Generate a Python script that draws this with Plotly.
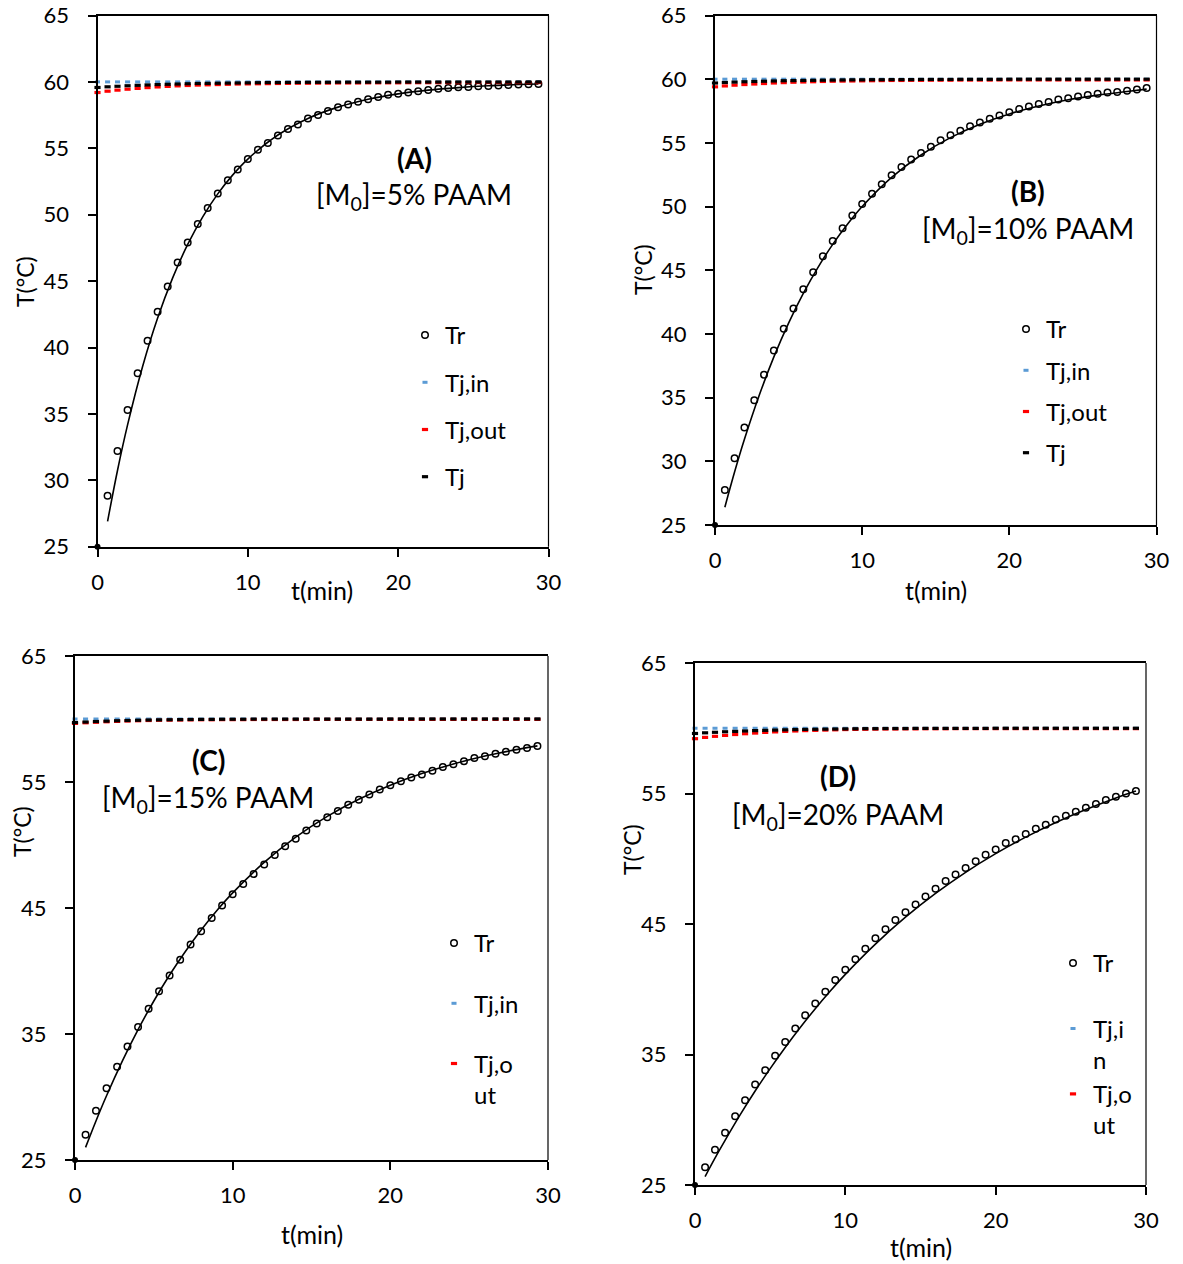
import plotly.graph_objects as go

W, H = 1183, 1264
FONT = "Lato"

# ---- data -------------------------------------------------------------
# measurement times of the reactor temperature (min)
t_meas = [0.67, 1.33, 2.0, 2.67, 3.33, 4.0, 4.67, 5.33, 6.0, 6.67, 7.33,
          8.0, 8.67, 9.33, 10.0, 10.67, 11.33, 12.0, 12.67, 13.33, 14.0,
          14.67, 15.33, 16.0, 16.67, 17.33, 18.0, 18.67, 19.33, 20.0, 20.67,
          21.33, 22.0, 22.67, 23.33, 24.0, 24.67, 25.33, 26.0, 26.67, 27.33,
          28.0, 28.67, 29.33]

# jacket temperature sampling times (min)
t_jacket = [0.0, 0.67, 1.33, 2.0, 2.67, 3.33, 4.0, 4.67, 5.33, 6.0, 6.67,
            7.33, 8.0, 8.67, 9.33, 10.0, 10.67, 11.33, 12.0, 12.67, 13.33,
            14.0, 14.67, 15.33, 16.0, 16.67, 17.33, 18.0, 18.67, 19.33, 20.0,
            20.67, 21.33, 22.0, 22.67, 23.33, 24.0, 24.67, 25.33, 26.0, 26.67,
            27.33, 28.0, 28.67, 29.33]

# model curve times (min)
t_model = [0.67, 1.33, 2.0, 3.0, 4.0, 5.0, 6.0, 7.0, 8.0, 9.0, 10.0, 12.0,
           14.0, 16.0, 18.0, 20.0, 22.0, 24.0, 26.0, 28.0, 29.33]

# initial reactor state
t_start = [0.0]
T_start = [25.0]

# measured reactor temperature Tr (°C)
Tr_A = [28.84, 32.2, 35.3, 38.06, 40.5, 42.7, 44.6, 46.4, 47.9, 49.3, 50.5,
        51.6, 52.6, 53.4, 54.2, 54.9, 55.4, 55.96, 56.45, 56.8, 57.25, 57.5,
        57.8, 58.1, 58.3, 58.5, 58.7, 58.86, 59.04, 59.1, 59.2, 59.3, 59.39,
        59.48, 59.54, 59.6, 59.62, 59.68, 59.7, 59.73, 59.76, 59.8, 59.83, 59.85]
Tr_B = [27.75, 30.25, 32.65, 34.8, 36.8, 38.7, 40.4, 42.0, 43.5, 44.85, 46.1,
        47.3, 48.3, 49.3, 50.2, 51.0, 51.75, 52.45, 53.1, 53.7, 54.2, 54.7,
        55.2, 55.6, 55.95, 56.3, 56.6, 56.9, 57.15, 57.4, 57.65, 57.85, 58.06,
        58.2, 58.4, 58.5, 58.65, 58.75, 58.85, 58.95, 59.0, 59.1, 59.2, 59.3]
Tr_C = [27.0, 28.9, 30.7, 32.4, 34.0, 35.55, 37.0, 38.4, 39.65, 40.9, 42.1,
        43.15, 44.2, 45.2, 46.1, 46.9, 47.7, 48.45, 49.2, 49.9, 50.5, 51.15,
        51.7, 52.2, 52.7, 53.2, 53.6, 54.0, 54.4, 54.75, 55.05, 55.35, 55.6,
        55.9, 56.2, 56.4, 56.65, 56.9, 57.05, 57.25, 57.4, 57.55, 57.7, 57.85]
Tr_D = [26.36, 27.7, 29.0, 30.27, 31.5, 32.7, 33.8, 34.9, 35.95, 37.0, 38.0,
        38.9, 39.8, 40.7, 41.5, 42.3, 43.1, 43.9, 44.6, 45.3, 45.9, 46.5,
        47.1, 47.7, 48.3, 48.8, 49.3, 49.8, 50.3, 50.7, 51.2, 51.5, 51.9,
        52.3, 52.6, 53.0, 53.3, 53.6, 53.9, 54.2, 54.5, 54.75, 55.0, 55.2]

# model reactor temperature (°C)
Tm_A = [26.9, 30.74, 34.17, 38.57, 42.22, 45.24, 47.76, 49.84, 51.57, 53.0,
        54.19, 56.0, 57.25, 58.1, 58.69, 59.1, 59.38, 59.57, 59.71, 59.8, 59.84]
Tm_B = [26.4, 29.16, 31.73, 35.17, 38.2, 40.85, 43.18, 45.23, 47.03, 48.61,
        50.0, 52.29, 54.05, 55.41, 56.46, 57.27, 57.89, 58.38, 58.75, 59.04, 59.22]
Tm_C = [26.0, 28.1, 30.1, 32.85, 35.35, 37.62, 39.68, 41.55, 43.25, 44.8,
        46.2, 48.62, 50.62, 52.27, 53.63, 54.75, 55.67, 56.43, 57.06, 57.57, 57.87]
Tm_D = [25.65, 27.06, 28.42, 30.37, 32.2, 33.92, 35.54, 37.07, 38.51, 39.86,
        41.14, 43.46, 45.52, 47.34, 48.96, 50.39, 51.66, 52.78, 53.77, 54.66, 55.19]

# jacket inlet temperature Tj,in (°C)
Tjin_A = [60.0, 60.0, 60.0, 60.0, 60.0, 60.0, 60.0, 60.0, 60.0, 60.0, 60.0, 60.0, 60.0, 60.0, 60.0,
          60.0, 60.0, 60.0, 60.0, 60.0, 60.0, 60.0, 60.0, 60.0, 60.0, 60.0, 60.0, 60.0, 60.0, 60.0,
          60.0, 60.0, 60.0, 60.0, 60.0, 60.0, 60.0, 60.0, 60.0, 60.0, 60.0, 60.0, 60.0, 60.0, 60.0]
Tjin_B = list(Tjin_A)
Tjin_C = list(Tjin_A)
Tjin_D = list(Tjin_A)

# jacket outlet temperature Tj,out (°C)
Tjout_A = [59.20, 59.30, 59.38, 59.45, 59.51, 59.57, 59.62, 59.66, 59.70, 59.73, 59.76, 59.78, 59.80, 59.82, 59.84,
           59.85, 59.86, 59.87, 59.88, 59.89, 59.90, 59.90, 59.91, 59.91, 59.92, 59.92, 59.92, 59.93, 59.93, 59.93,
           59.93, 59.94, 59.94, 59.94, 59.94, 59.94, 59.94, 59.95, 59.95, 59.95, 59.95, 59.95, 59.95, 59.95, 59.95]
Tjout_B = [59.40, 59.47, 59.53, 59.58, 59.62, 59.66, 59.70, 59.73, 59.76, 59.78, 59.80, 59.82, 59.84, 59.85, 59.86,
           59.87, 59.88, 59.89, 59.90, 59.90, 59.91, 59.91, 59.92, 59.92, 59.92, 59.93, 59.93, 59.93, 59.93, 59.94,
           59.94, 59.94, 59.94, 59.94, 59.94, 59.94, 59.94, 59.94, 59.94, 59.94, 59.94, 59.94, 59.94, 59.94, 59.94]
Tjout_C = [59.65, 59.70, 59.74, 59.78, 59.81, 59.84, 59.86, 59.88, 59.90, 59.91, 59.92, 59.93, 59.94, 59.94, 59.95,
           59.95, 59.95, 59.96, 59.96, 59.96, 59.96, 59.96, 59.97, 59.97, 59.97, 59.97, 59.97, 59.97, 59.97, 59.97,
           59.97, 59.97, 59.97, 59.97, 59.97, 59.97, 59.97, 59.97, 59.97, 59.97, 59.97, 59.97, 59.97, 59.97, 59.97]
Tjout_D = [59.20, 59.30, 59.38, 59.45, 59.52, 59.58, 59.63, 59.68, 59.72, 59.76, 59.79, 59.82, 59.84, 59.86, 59.88,
           59.90, 59.91, 59.92, 59.93, 59.94, 59.94, 59.95, 59.95, 59.96, 59.96, 59.96, 59.97, 59.97, 59.97, 59.97,
           59.97, 59.97, 59.97, 59.97, 59.97, 59.97, 59.97, 59.97, 59.97, 59.97, 59.97, 59.97, 59.97, 59.97, 59.97]

# mean jacket temperature Tj (°C)
Tj_A = [59.58, 59.63, 59.67, 59.71, 59.74, 59.77, 59.80, 59.82, 59.84, 59.86, 59.88, 59.89, 59.90, 59.91, 59.92,
        59.93, 59.94, 59.95, 59.95, 59.96, 59.96, 59.97, 59.97, 59.97, 59.98, 59.98, 59.98, 59.98, 59.98, 59.98,
        59.99, 59.99, 59.99, 59.99, 59.99, 59.99, 59.99, 59.99, 59.99, 59.99, 59.99, 59.99, 59.99, 59.99, 59.99]
Tj_B = [59.70, 59.74, 59.77, 59.80, 59.82, 59.84, 59.86, 59.88, 59.89, 59.90, 59.91, 59.92, 59.93, 59.94, 59.95,
        59.95, 59.96, 59.96, 59.97, 59.97, 59.97, 59.98, 59.98, 59.98, 59.98, 59.99, 59.99, 59.99, 59.99, 59.99,
        60.0, 60.0, 60.0, 60.0, 60.0, 60.0, 60.0, 60.0, 60.0, 60.0, 60.0, 60.0, 60.0, 60.0, 60.0]
Tj_C = [59.72, 59.76, 59.80, 59.83, 59.86, 59.88, 59.90, 59.92, 59.93, 59.94, 59.95, 59.96, 59.97, 59.97, 59.98,
        59.98, 59.98, 59.99, 59.99, 59.99, 59.99, 59.99, 59.99, 59.99, 59.99, 59.99, 59.99, 59.99, 59.99, 59.99,
        60.0, 60.0, 60.0, 60.0, 60.0, 60.0, 60.0, 60.0, 60.0, 60.0, 60.0, 60.0, 60.0, 60.0, 60.0]
Tj_D = [59.60, 59.65, 59.69, 59.73, 59.76, 59.79, 59.82, 59.84, 59.86, 59.88, 59.90, 59.91, 59.92, 59.93, 59.94,
        59.95, 59.96, 59.97, 59.97, 59.98, 59.98, 59.98, 59.99, 59.99, 59.99, 59.99, 59.99, 59.99, 59.99, 59.99,
        60.0, 60.0, 60.0, 60.0, 60.0, 60.0, 60.0, 60.0, 60.0, 60.0, 60.0, 60.0, 60.0, 60.0, 60.0]

panel_tags = ["(A)", "(B)", "(C)", "(D)"]
monomer_pct = ["5%", "10%", "15%", "20%"]
legend_names = [
    ["Tr", "Tj,in", "Tj,out", "Tj"],
    ["Tr", "Tj,in", "Tj,out", "Tj"],
    ["Tr", "Tj,in", "Tj,o<br>ut", None],
    ["Tr<br>\u00a0", "Tj,i<br>n", "Tj,o<br>ut", None],
]
y_dticks = [5, 5, 10, 10]

# ---- layout geometry (pixels) -----------------------------------------
# plot area boxes: left, right, top, bottom
boxes = [(97.5, 548.5, 15.5, 546.7),
         (715.0, 1156.5, 15.5, 525.0),
         (75.0, 548.0, 656.0, 1160.0),
         (695.0, 1146.0, 663.0, 1185.0)]
tag_pos = [(414, 158), (1028, 191), (208, 760), (838, 776)]
label_pos = [(414, 196), (1028, 230), (208, 799), (838, 816)]
xtitle_pos = [(322, 590), (936, 590), (312, 1234), (921, 1247)]
ytitle_pos = [(25, 282), (643, 270), (22, 832), (632, 850)]
legend_pos = [(405, 313), (1006, 307), (434, 921), (1053, 941)]
legend_gap = [13, 7, 26, 0]
LEG_SIZE = 24


def px(x, y):
    return x / W, 1 - y / H


series = [
    (Tr_A, Tm_A, Tjin_A, Tjout_A, Tj_A),
    (Tr_B, Tm_B, Tjin_B, Tjout_B, Tj_B),
    (Tr_C, Tm_C, Tjin_C, Tjout_C, Tj_C),
    (Tr_D, Tm_D, Tjin_D, Tjout_D, Tj_D),
]

fig = go.Figure()
annotations = []
shapes = []
layout = {}

for i, (tr, tm, tjin, tjout, tj) in enumerate(series):
    suf = "" if i == 0 else str(i + 1)
    xa, ya = "x" + suf, "y" + suf
    leg = "legend" + suf
    names = legend_names[i]

    fig.add_trace(go.Scatter(
        x=t_meas, y=tr, mode="markers", name=names[0],
        marker=dict(symbol="circle-open", size=6.5, color="black",
                    line=dict(width=1.5, color="black")),
        xaxis=xa, yaxis=ya, legend=leg, legendgroup=f"g{i}a", cliponaxis=False))
    fig.add_trace(go.Scatter(
        x=t_model, y=tm, mode="lines", line=dict(color="black", width=1.6, shape="spline"),
        xaxis=xa, yaxis=ya, showlegend=False, cliponaxis=False))
    fig.add_trace(go.Scatter(
        x=t_jacket, y=tjin, mode="markers", name=names[1],
        marker=dict(symbol="line-ew", size=3.6, color="#5B9BD5",
                    line=dict(width=3, color="#5B9BD5")),
        xaxis=xa, yaxis=ya, legend=leg, legendgroup=f"g{i}b", cliponaxis=False))
    fig.add_trace(go.Scatter(
        x=t_jacket, y=tjout, mode="markers", name=names[2],
        marker=dict(symbol="line-ew", size=4.4, color="#FF0000",
                    line=dict(width=3.2, color="#FF0000")),
        xaxis=xa, yaxis=ya, legend=leg, legendgroup=f"g{i}c", cliponaxis=False))
    fig.add_trace(go.Scatter(
        x=t_jacket, y=tj, mode="markers", name=names[3] or "Tj",
        marker=dict(symbol="line-ew", size=4.4, color="black",
                    line=dict(width=3.2, color="black")),
        xaxis=xa, yaxis=ya, legend=leg, legendgroup=f"g{i}d",
        showlegend=names[3] is not None, cliponaxis=False))
    fig.add_trace(go.Scatter(
        x=t_start, y=T_start, mode="markers",
        marker=dict(symbol="circle", size=6, color="black"),
        xaxis=xa, yaxis=ya, showlegend=False, cliponaxis=False))

    l, r, t, b = boxes[i]
    layout["xaxis" + suf] = dict(
        domain=[l / W, r / W], anchor=ya, range=[0, 30], tick0=0, dtick=10,
        showline=True, mirror=True, linecolor="black", linewidth=2,
        ticks="outside", ticklen=8, tickwidth=1.5, tickcolor="black",
        showgrid=False, zeroline=False, ticklabelstandoff=7, automargin=False,
        tickfont=dict(family=FONT, size=22, color="black"))
    layout["yaxis" + suf] = dict(
        domain=[1 - b / H, 1 - t / H], anchor=xa, range=[25, 65], tick0=25,
        dtick=y_dticks[i], showline=True, linecolor="black", linewidth=2,
        ticks="outside", ticklen=8, tickwidth=1.5, tickcolor="black",
        showgrid=False, zeroline=False, ticklabelstandoff=14, automargin=False,
        tickfont=dict(family=FONT, size=22, color="black"))
    # thin right-hand frame line
    shapes.append(dict(type="line", xref=xa + " domain", yref=ya + " domain",
                       x0=1, x1=1, y0=0, y1=1, line=dict(color="black", width=1.2)))

    lx, ly = px(*legend_pos[i])
    layout[leg] = dict(x=lx, y=ly, xanchor="left", yanchor="top",
                       bgcolor="rgba(0,0,0,0)", tracegroupgap=legend_gap[i],
                       valign="top", font=dict(family=FONT, size=LEG_SIZE, color="black"))

    common = dict(xref="paper", yref="paper", showarrow=False,
                  xanchor="center", yanchor="middle")
    ax, ay = px(*tag_pos[i])
    annotations.append(dict(x=ax, y=ay, text=f"<b>{panel_tags[i]}</b>",
                            font=dict(family=FONT, size=28, color="black"), **common))
    ax, ay = px(*label_pos[i])
    annotations.append(dict(x=ax, y=ay, text=f"[M<sub>0</sub>]={monomer_pct[i]} PAAM",
                            font=dict(family=FONT, size=28, color="black"), **common))
    ax, ay = px(*xtitle_pos[i])
    annotations.append(dict(x=ax, y=ay, text="t(min)",
                            font=dict(family=FONT, size=25, color="black"), **common))
    ax, ay = px(*ytitle_pos[i])
    annotations.append(dict(x=ax, y=ay, text="T(°C)", textangle=-90,
                            font=dict(family=FONT, size=23, color="black"), **common))

fig.update_layout(
    template="none",
    width=W, height=H, margin=dict(l=0, r=0, t=0, b=0, autoexpand=False),
    paper_bgcolor="white", plot_bgcolor="white",
    font=dict(family=FONT, color="black"),
    annotations=annotations, shapes=shapes, **layout)

fig.write_html("out.html")
